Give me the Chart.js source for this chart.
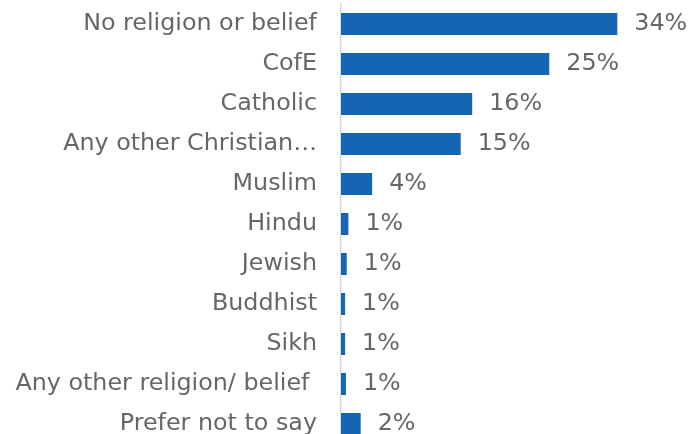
<!DOCTYPE html>
<html>
<head>
<meta charset="utf-8">
<script src="https://cdn.jsdelivr.net/npm/chart.js@4"></script>
<style>
  html, body { margin: 0; padding: 0; background: #fff; overflow: hidden; }
  #wrap { position: relative; width: 692px; height: 444px; }
</style>
</head>
<body>
<div id="wrap"><canvas id="religion"></canvas></div>
<script>
const religions = [
  'No religion or belief',
  'CofE',
  'Catholic',
  'Any other Christian…',
  'Muslim',
  'Hindu',
  'Jewish',
  'Buddhist',
  'Sikh',
  'Any other religion/ belief ',
  'Prefer not to say'
];
const shares = [33.7, 25.4, 16.0, 14.6, 3.8, 0.9, 0.7, 0.5, 0.5, 0.6, 2.4];

const barBlue = '#1566b2';
const textGrey = '#666666';
const labelFont = { family: "'DejaVu Sans', Verdana, sans-serif", size: 23.8 };

// percentage next to the end of each bar
const valueLabels = {
  id: 'valueLabels',
  afterDatasetsDraw(chart) {
    const ctx = chart.ctx;
    const meta = chart.getDatasetMeta(0);
    ctx.save();
    ctx.font = labelFont.size + 'px ' + labelFont.family;
    ctx.fillStyle = textGrey;
    ctx.textAlign = 'left';
    ctx.textBaseline = 'middle';
    meta.data.forEach((bar, i) => {
      ctx.fillText(Math.round(shares[i]) + '%', bar.x + 17, bar.y);
    });
    ctx.restore();
  }
};

new Chart(document.getElementById('religion'), {
  type: 'bar',
  data: {
    labels: religions,
    datasets: [{
      data: shares,
      backgroundColor: barBlue,
      borderWidth: 0,
      barPercentage: 0.55,
      categoryPercentage: 1
    }]
  },
  options: {
    indexAxis: 'y',
    responsive: true,
    maintainAspectRatio: false,
    animation: false,
    layout: { padding: { top: 4, right: 23, bottom: 0, left: 0 } },
    plugins: {
      legend: { display: false },
      tooltip: { enabled: false }
    },
    scales: {
      x: {
        display: false,
        min: 0,
        max: 40
      },
      y: {
        afterFit(scale) {
          scale.width = 341;
          scale.paddingTop = 0;
          scale.paddingBottom = 0;
        },
        grid: { display: false, drawTicks: false },
        border: { display: true, color: '#d9d9d9', width: 1.5 },
        ticks: {
          color: textGrey,
          font: labelFont,
          padding: 24,
          autoSkip: false
        }
      }
    }
  },
  plugins: [valueLabels]
});
</script>
</body>
</html>
